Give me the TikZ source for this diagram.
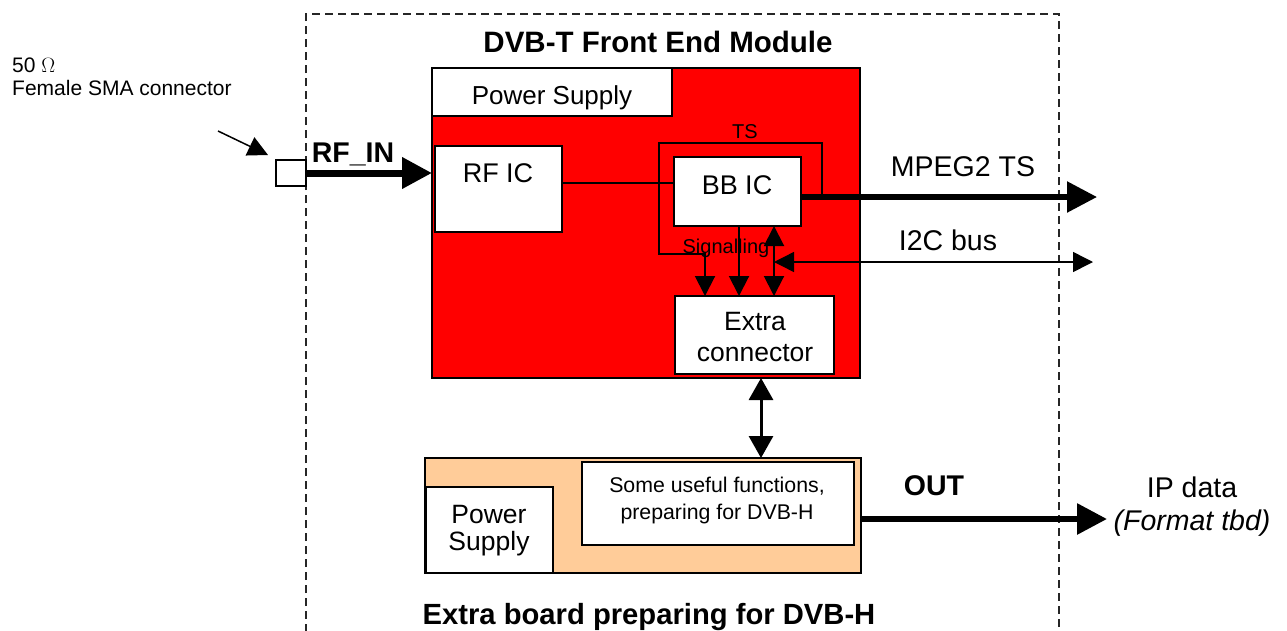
\documentclass[tikz,border=0pt]{standalone}
\usepackage{fontspec}
\setmainfont{Liberation Sans}
\usetikzlibrary{arrows.meta}
\definecolor{boardred}{RGB}{255,0,0}
\definecolor{peach}{RGB}{255,204,153}
\tikzset{
  box/.style={draw, line width=2pt, fill=white, inner sep=0pt, outer sep=0pt, anchor=north west},
  frame/.style={draw=black!85, line width=1.5pt, dash pattern=on 8pt off 5pt},
  txt/.style={inner sep=0pt, anchor=base, font=\fontsize{27}{31}\selectfont},
  txtsmall/.style={inner sep=0pt, anchor=base, font=\fontsize{21}{25}\selectfont},
  txtbold/.style={inner sep=0pt, anchor=base, font=\fontsize{29.5}{33}\selectfont\bfseries},
  thin/.style={line width=2pt},
  thinarrow/.style={line width=2pt, -{Triangle[length=20pt,width=20pt]}},
  thickarrow/.style={-{Triangle[length=30pt,width=30pt]}},
}
\begin{document}
\begin{tikzpicture}[x=1pt,y=-1pt]
\useasboundingbox (0,0) rectangle (1287,630);

% dashed outline of the module, open at the bottom
\draw[frame] (306,632) -- (306,14) -- (1059,14) -- (1059,632);

% front end module board and its blocks
\node[box, fill=boardred, minimum width=428pt, minimum height=310pt] (feboard) at (432,68) {};
\node[box, minimum width=240pt, minimum height=48pt] (pstop) at (432,68) {};
\node[box, minimum width=127pt, minimum height=86pt] (rfic) at (435,146) {};
\node[box, minimum width=127pt, minimum height=69pt] (bbic) at (674,157) {};
\node[box, minimum width=159pt, minimum height=78pt] (extra) at (675,296) {};

% extra board and its blocks
\node[box, fill=peach, minimum width=436pt, minimum height=115pt] (xboard) at (425,458) {};
\node[box, minimum width=127pt, minimum height=86pt] (psbot) at (426,487) {};
\node[box, minimum width=272pt, minimum height=83pt] (func) at (582,462) {};

% SMA connector
\node[box, minimum width=30pt, minimum height=26pt] (sma) at (276,160) {};

% free ends of connectors
\coordinate (rfrow) at (0,183);
\coordinate (tsrow) at (0,197);
\coordinate (tstop) at (822,143);
\coordinate (tsleft) at (659,143);
\coordinate (tsbottom) at (659,254);
\coordinate (sigx) at (705,0);
\coordinate (bbx) at (739,0);
\coordinate (i2cx) at (774,0);
\coordinate (mpegend) at (1097,197);
\coordinate (i2cleft) at (774,262);
\coordinate (i2cright) at (1093,262);
\coordinate (linkx) at (761,0);
\coordinate (outend) at (1107,519);
\coordinate (outrow) at (0,519);
\coordinate (ptrstart) at (218,131);
\coordinate (ptrend) at (268,155);

% connectors
\draw[thickarrow, line width=7pt] (sma.east) -- (sma.east -| feboard.west);
\draw[thin] (rfic.east |- rfrow) -- (bbic.west |- rfrow);
\draw[thickarrow, line width=5.5pt] (bbic.east |- tsrow) -- (mpegend);
\draw[thinarrow] (tstop |- tsrow) -- (tstop) -- (tsleft) -- (tsbottom) -- (sigx |- tsbottom) -- (sigx |- extra.north);
\draw[thinarrow] (bbx |- bbic.south) -- (bbx |- extra.north);
\draw[thin, {Triangle[length=20pt,width=20pt]}-{Triangle[length=20pt,width=20pt]}] (i2cx |- bbic.south) -- (i2cx |- extra.north);
\draw[line width=1.5pt, {Triangle[length=20pt,width=20pt]}-{Triangle[length=20pt,width=20pt]}] (i2cleft) -- (i2cright);
\draw[line width=3pt, {Triangle[length=22pt,width=24pt]}-{Triangle[length=22pt,width=24pt]}] (linkx |- feboard.south) -- (linkx |- xboard.north);
\draw[thickarrow, line width=6pt] (xboard.east |- outrow) -- (outend);
\draw[thinarrow, line width=1.5pt] (ptrstart) -- (ptrend);

% labels
\node[txtsmall, anchor=base west] (ohm) at (12,72) {50 $\Omega$};
\node[txtsmall, anchor=base west] (smalbl) at (12,95) {Female SMA connector};
\node[txtbold, font=\fontsize{28.5}{32}\selectfont\bfseries] (rfin) at (353,162) {RF\_IN};
\node[txtbold] (fetitle) at (658,52) {DVB-T Front End Module};
\node[txt, font=\fontsize{26}{30}\selectfont] (pstoplbl) at (552,104) {Power Supply};
\node[txt] (rficlbl) at (498,182) {RF IC};
\node[txt] (bbiclbl) at (737,194) {BB IC};
\node[txtsmall, font=\fontsize{20}{24}\selectfont] (tslbl) at (745,138) {TS};
\node[txtsmall, font=\fontsize{20}{24}\selectfont] (siglbl) at (726,253) {Signalling};
\node[txt, font=\fontsize{26.5}{30}\selectfont] (extralbl1) at (755,330) {Extra};
\node[txt, font=\fontsize{26.5}{30}\selectfont] (extralbl2) at (755,361) {connector};
\node[txt, font=\fontsize{28.5}{32}\selectfont] (mpeglbl) at (963,176) {MPEG2 TS};
\node[txt, font=\fontsize{28.5}{32}\selectfont] (i2clbl) at (948,250) {I2C bus};
\node[txt, font=\fontsize{26.5}{30}\selectfont] (pslbl1) at (489,523) {Power};
\node[txt, font=\fontsize{26.5}{30}\selectfont] (pslbl2) at (489,550) {Supply};
\node[txtsmall, font=\fontsize{21.3}{25}\selectfont] (funclbl1) at (717,492) {Some useful functions,};
\node[txtsmall, font=\fontsize{21.3}{25}\selectfont] (funclbl2) at (717,519) {preparing for DVB-H};
\node[txtbold, font=\fontsize{28.5}{32}\selectfont\bfseries] (outlbl) at (934,495) {OUT};
\node[txt, font=\fontsize{28.5}{32}\selectfont] (iplbl) at (1192,497) {IP data};
\node[txt, font=\fontsize{28.5}{32}\selectfont\itshape] (fmtlbl) at (1192,530) {(Format tbd)};
\node[txtbold, font=\fontsize{29.2}{33}\selectfont\bfseries] (xtitle) at (649,624) {Extra board preparing for DVB-H};
\end{tikzpicture}
\end{document}
